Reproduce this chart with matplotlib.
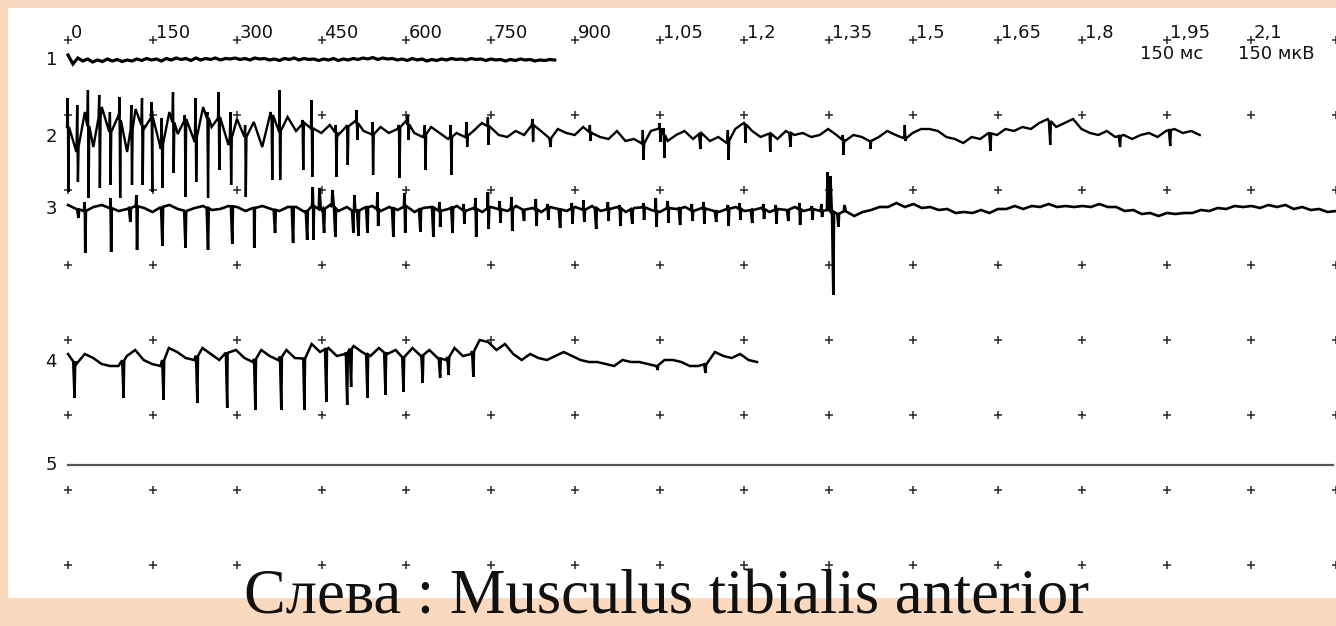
import numpy as np
import matplotlib
matplotlib.use("Agg")
import matplotlib.pyplot as plt
from matplotlib.patches import Rectangle

# ---------------- data (times in ms, amplitudes in µV) ----------------
TICK_MS = [0, 150, 300, 450, 600, 750, 900, 1050, 1200, 1350, 1500, 1650, 1800, 1950, 2100, 2250]
TICK_LABELS = ["0", "150", "300", "450", "600", "750", "900", "1,05", "1,2", "1,35",
               "1,5", "1,65", "1,8", "1,95", "2,1", ""]
GRID_ROWS_UV = [0, -150, -300, -450, -600, -750, -900, -1050]
TRACE_NAMES = ["1", "2", "3", "4", "5"]
TRACE_OFFSET_UV = [-40, -194, -338, -644, -850]
TRACE_SPAN_MS = [(0, 864), (0, 2009), (0, 2251), (0, 1223), (0, 2245)]

T1_BASE = [10, -8, 4, -2, 2, -4, 0, -3, 2, -2, 1, -3, 0, -2, 2, -1, 3, 0, 2, -2, 3, 0, 4, 1, 3,
           -1, 4, 0, 3, 1, 4, 0, 3, 2, 4, 1, 3, 0, 4, 2, 3, 0, 2, -1, 3, 1, 4, 0, 3, 1, 2, -1,
           2, 0, 3, -1, 2, 0, 3, 1, 4, 2, 5, 1, 4, 2, 3, 0, 2, -1, 3, 0, 2, -2, 1, -1, 2, 0,
           3, 1, 2, 0, 3, 1, 2, -1, 2, 0, 1, -2, 1, -1, 2, 0, 1, -2, 0, -1, 1, 0]

T2_BASE = [20, -30, 50, -20, 60, 10, 44, -30, 56, 16, 40, -24, 50, 6, 36, -10, 60, 20, 40, -16,
           36, 0, 30, -20, 50, 10, 40, 12, 28, 16, 8, 24, 4, 20, 32, 12, 4, 20, 8, 16,
           32, 8, 0, 20, 8, -4, 8, 0, 12, 28, 20, 4, 0, 12, 4, 24, 12, -4, 16, 8,
           4, 20, 8, 0, -4, 12, -8, -4, -16, 12, 20, -8, 4, 12, -4, 8, -8, 0, -12, 16,
           28, 12, 0, 8, -4, 12, 4, 8, 0, 4, 16, 4, -8, 4, 0, -8, 0, 12, 4, -4,
           8, 16, 16, 12, 0, -4, -12, 0, -4, 8, 4, 16, 12, 20, 16, 28, 36, 20, 28, 36,
           16, 8, 4, 12, 0, 4, -4, 4, 8, 0, 12, 16, 8, 12, 4]
T2_SPIKE_MS = [0, 17, 36, 56, 75, 92, 113, 132, 149, 167, 187, 208, 227, 248, 268, 289, 315,
               362, 376, 417, 433, 476, 496, 513, 541, 588, 604, 634, 680, 708, 746, 825,
               856, 927, 1021, 1051, 1058, 1122, 1172, 1202, 1246, 1282, 1376, 1424, 1486,
               1637, 1743, 1867, 1956]
T2_SPIKE_UP = [78, 64, 94, 84, 50, 80, 64, 78, 70, 38, 90, 44, 78, 50, 90, 50, 24,
               38, 94, 34, 74, 24, 24, 54, 30, 24, 44, 24, 24, 30, 40, 36,
               0, 24, 14, 28, 18, 0, 14, 28, 4, 0, 4, 0, 24,
               0, 0, 0, 0]
T2_SPIKE_DN = [-110, -90, -122, -102, -96, -122, -96, -96, -110, -102, -72, -120, -90, -122,
               -66, -96, -120, -86, -86, -66, -80, -80, -56, -6, -76, -82, -6, -66, -76, -20,
               -16, -10, -20, -8, -46, -10, -42, -24, -46, -12, -30, -20, -36, -24, -8,
               -28, -16, -20, -18]

T3_BASE = [8, 0, -4, 4, 8, 2, -4, 0, 6, 2, -6, 4, 8, 0, -4, 2, 6, -2, 0, 6, 4, -4, 2, 6, 0, -4, 4,
           4, -6, 6, -2, 8, -4, 4, -6, 2, 6, -4, 4, -2, 6, -6, 2, 4, -4, 0, 6, -4, 2, -6, 4,
           0, -4, 6, -2, 2, -6, 4, 0, -4, 4, -2, 6, -4, 0, 4, -6, 2, 4, -2, -6, 2, 0, 4, -4,
           2, -2, -6, 0, 4, -4, -2, 2, -6, 0, -2, 4, -4, 0, -4, -2,
           -10, -4, -14, -6, -2, 4, 4, 12, 4, 10, 2, 4, -2, 0, -8, -6, -8, -2, -8, 0,
           0, 6, 0, 6, 4, 10, 4, 6, 4, 6, 4, 10, 4, 4, -4, -2, -10, -8, -14, -8,
           -10, -8, -8, -2, -4, 2, 0, 6, 4, 6, 2, 8, 4, 8, 0, 4, -2, 0, -6, -4]
T3_SPIKE_MS = [18, 30, 76, 110, 122, 167, 208, 248, 291, 330, 367, 399, 424, 435, 447, 454,
               470, 474, 506, 509, 515, 531, 550, 577, 598, 625, 648,
               660, 682, 703, 724, 746, 767, 788, 809, 831, 852, 873, 895, 916, 937, 959, 980,
               1001, 1022, 1044, 1065, 1086, 1108, 1129, 1150, 1172, 1193, 1214, 1235, 1257,
               1278, 1299, 1321, 1338,
               1349, 1354, 1358, 1367, 1379]
T3_SPIKE_UP = [0, 14, 22, 0, 28, 0, 0, 0, 0, 0, 0, 0, 0, 44, 42, 0,
               38, 0, 0, 28, 0, 0, 34, 0, 32, 0, 0,
               14, 0, 10, 22, 34, 16, 24, 0, 20, 10, 0, 12, 18, 0, 14, 8,
               0, 12, 22, 16, 0, 10, 14, 0, 8, 12, 0, 10, 8,
               0, 12, 6, 10,
               74, 66, 0, 0, 8]
T3_SPIKE_DN = [-18, -88, -86, -26, -82, -74, -78, -82, -70, -78, -48, -68, -62, -62, 0, -48,
               0, -56, -48, 0, -54, -48, -34, -56, -48, -46, -56,
               -36, -48, -30, -56, -40, -28, -44, -24, -34, -22, -38, -30, -26, -40, -24, -34,
               -30, -22, -36, -28, -32, -24, -30, -26, -34, -22, -28, -20, -30,
               -24, -32, -22, -16,
               0, 0, -172, -36, 0]

T4_BASE = [16, -4, 16, 8, -4, -8, -8, 12, 24, 4, -4, -8, 28, 20, 8, 4, 28, 16, 4, 20, 24, 8, 0,
           24, 12, 4, 24, 8, 4, 36, 20, 28, 12, 16, 32, 20, 12, 28, 16, 24, 8, 28, 12, 24, 8,
           4, 28, 12, 16, 44, 40, 24, 36, 16, 4, 16, 8, 4, 12, 20, 12, 4, 0, 0, -4, -8, 4, 0,
           0, -4, -8, 4, 4, 0, -8, -8, -4, 20, 12, 8, 16, 4, 0]
T4_SPIKE_MS = [11, 98, 169, 229, 282, 332, 378, 419, 458, 495, 502, 531, 563, 595, 629, 660,
               675, 719, 1046, 1131]
T4_SPIKE_UP = [0] * 20
T4_SPIKE_DN = [-72, -72, -76, -82, -92, -96, -96, -96, -80, -86, -50, -72, -66, -60, -42, -32,
               -26, -30, -16, -22]

T5_VALUES = [0, 0]

# ---------------- layout constants ----------------
W, H, DPI = 1336, 626, 100
PX_ORIGIN = 68.0
MS_PER_PX = 150.0 / 84.5
UV_PER_PX = 2.0
ROW0_PX = 40.0
TRACE_LW = [2.3, 1.7, 1.9, 1.8]


def px2ms(px):
    return (px - PX_ORIGIN) * MS_PER_PX


PEACH = "#FAD9BE"

fig = plt.figure(figsize=(W / DPI, H / DPI), dpi=DPI, facecolor=PEACH)
fig.patches.append(Rectangle((8 / W, (H - 598) / H), (W - 8) / W, 590 / H,
                             transform=fig.transFigure, facecolor="white",
                             edgecolor="none", zorder=-5))
ax = fig.add_axes([0, 0, 1, 1])
ax.set_zorder(5)
ax.set_facecolor("none")
ax.set_xlim(px2ms(0), px2ms(W))
ax.set_ylim(-(H - ROW0_PX) * UV_PER_PX, ROW0_PX * UV_PER_PX)
ax.axis("off")

# grid crosses
gx, gy = np.meshgrid(TICK_MS, GRID_ROWS_UV)
ax.plot(gx.ravel(), gy.ravel(), linestyle="none", marker="+", markersize=6,
        markeredgewidth=1.1, color="#2a2a2a", zorder=1)


def build(base, span, spikes_t=(), spikes_up=(), spikes_dn=()):
    t = np.linspace(span[0], span[1], len(base))
    b = np.asarray(base, dtype=float)
    pts = list(zip(t, b))
    for ts, up, dn in zip(spikes_t, spikes_up, spikes_dn):
        bl = float(np.interp(ts, t, b))
        pts.append((ts - 1.8, bl))
        if up:
            pts.append((ts - 0.6, up))
        if dn:
            pts.append((ts + 0.6, dn))
        pts.append((ts + 1.8, bl))
    pts.sort(key=lambda p: p[0])
    arr = np.array(pts, dtype=float)
    return arr[:, 0], arr[:, 1]


traces = [
    build(T1_BASE, TRACE_SPAN_MS[0]),
    build(T2_BASE, TRACE_SPAN_MS[1], T2_SPIKE_MS, T2_SPIKE_UP, T2_SPIKE_DN),
    build(T3_BASE, TRACE_SPAN_MS[2], T3_SPIKE_MS, T3_SPIKE_UP, T3_SPIKE_DN),
    build(T4_BASE, TRACE_SPAN_MS[3], T4_SPIKE_MS, T4_SPIKE_UP, T4_SPIKE_DN),
]
for (t, v), off, lw in zip(traces, TRACE_OFFSET_UV[:4], TRACE_LW):
    ax.plot(t, np.asarray(v) + off, color="black", lw=lw, zorder=3,
            solid_joinstyle="miter")

t5 = np.linspace(TRACE_SPAN_MS[4][0], TRACE_SPAN_MS[4][1], len(T5_VALUES))
ax.plot(t5, np.asarray(T5_VALUES) + TRACE_OFFSET_UV[4], color="#555555", lw=1.6, zorder=3)

# tick labels along the top
for ms, lab in zip(TICK_MS, TICK_LABELS):
    ax.text(ms + 3 * MS_PER_PX, 3, lab, ha="left", va="baseline", fontsize=13,
            family="DejaVu Sans", color="#111111")

# trace numbers
for name, off in zip(TRACE_NAMES, TRACE_OFFSET_UV):
    ax.text(px2ms(57), off, name, ha="right", va="center", fontsize=13,
            family="DejaVu Sans", color="#111111")

# scale labels
ax.text(px2ms(1172), -38, "150 мс", ha="center", va="baseline", fontsize=13,
        family="DejaVu Sans", color="#111111")
ax.text(px2ms(1276), -38, "150 мкВ", ha="center", va="baseline", fontsize=13,
        family="DejaVu Sans", color="#111111")

fig.text(667 / W, (H - 613) / H, "Слева : Musculus tibialis anterior", ha="center",
         va="baseline", fontsize=45, family="Liberation Serif", color="#111111")

fig.savefig("out.png", dpi=DPI, facecolor=PEACH)
